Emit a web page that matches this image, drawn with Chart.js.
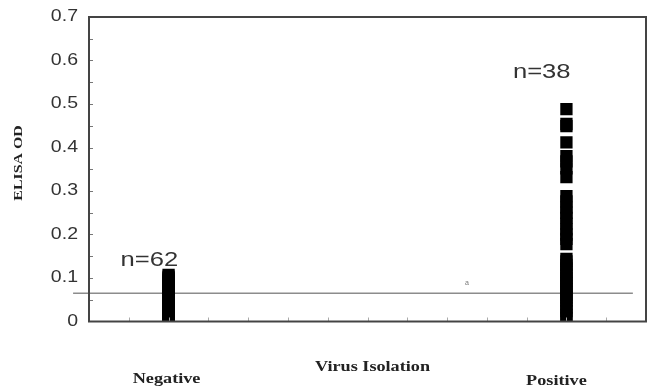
<!DOCTYPE html>
<html>
<head>
<meta charset="utf-8">
<script src="https://cdn.jsdelivr.net/npm/chart.js@4.4.1/dist/chart.umd.min.js"></script>
<style>
  html, body { margin: 0; padding: 0; background: #fff; }
  #wrap { width: 650px; height: 389px; }
</style>
</head>
<body>
<div id="wrap"><canvas id="grafico"></canvas></div>
<script>
// categorie sull'asse x e loro posizione sulla scala
var categorie = ['Negative', 'Positive'];
var posizioni = [2, 12];
var conteggi = ['n=62', 'n=38'];

// valori ELISA OD
var od_negativi = [0.005, 0.008, 0.01, 0.012, 0.015, 0.018, 0.02, 0.022, 0.024, 0.026,
  0.028, 0.03, 0.031, 0.033, 0.035, 0.036, 0.038, 0.04, 0.041, 0.043,
  0.044, 0.045, 0.047, 0.048, 0.05, 0.051, 0.052, 0.054, 0.055, 0.056,
  0.058, 0.059, 0.06, 0.061, 0.062, 0.063, 0.064, 0.065, 0.066, 0.068,
  0.069, 0.07, 0.071, 0.072, 0.074, 0.075, 0.076, 0.078, 0.079, 0.08,
  0.082, 0.083, 0.085, 0.086, 0.088, 0.09, 0.092, 0.094, 0.097, 0.1,
  0.103, 0.107];
var od_positivi = [0.488, 0.454, 0.449, 0.412, 0.380, 0.368, 0.352, 0.332,
  0.288, 0.276, 0.262, 0.250, 0.238, 0.225, 0.212, 0.200, 0.190, 0.178,
  0.144, 0.138, 0.130, 0.122, 0.115, 0.108, 0.100, 0.094, 0.088, 0.081,
  0.075, 0.068, 0.061, 0.055, 0.048, 0.040, 0.032, 0.024, 0.015, 0.008];
var cutoff = 0.065;
var y_ticks = [0, 0.1, 0.2, 0.3, 0.4, 0.5, 0.6, 0.7];

function punti(x, valori) {
  var out = [];
  for (var i = 0; i < valori.length; i++) {
    out.push({x: x, y: valori[i]});
  }
  return out;
}

// testo allargato in orizzontale come nella scansione
function testo(ctx, t, x, y, sx, align) {
  ctx.save();
  ctx.translate(x, y);
  ctx.scale(sx, 1);
  ctx.textAlign = align || 'center';
  ctx.fillText(t, 0, 0);
  ctx.restore();
}

var serif = '"Liberation Serif", "DejaVu Serif", serif';
var sans = '"Liberation Sans", Arial, sans-serif';

// bordo, tacche interne e testi aggiuntivi
var decorazioni = {
  id: 'decorazioni',
  afterDatasetsDraw: function(chart) {
    var ctx = chart.ctx;
    var a = chart.chartArea;
    var sx = chart.scales.x;
    var sy = chart.scales.y;
    ctx.save();
    // tacche asse y ogni 0.05
    ctx.strokeStyle = '#777';
    ctx.lineWidth = 1;
    for (var v = 0.05; v < 0.7; v += 0.05) {
      var py = Math.round(sy.getPixelForValue(v)) + 0.5;
      ctx.beginPath();
      ctx.moveTo(a.left, py);
      ctx.lineTo(a.left + 4, py);
      ctx.stroke();
    }
    // tacche asse x
    ctx.strokeStyle = '#aaa';
    for (var k = 1; k < 14; k++) {
      var px = Math.round(sx.getPixelForValue(k)) + 0.5;
      ctx.beginPath();
      ctx.moveTo(px, a.bottom);
      ctx.lineTo(px, a.bottom - 4);
      ctx.stroke();
    }
    // cornice
    ctx.strokeStyle = '#444';
    ctx.lineWidth = 2;
    ctx.strokeRect(a.left, a.top, a.right - a.left, a.bottom - a.top);

    ctx.textBaseline = 'middle';

    // etichette asse y
    ctx.fillStyle = '#333';
    ctx.font = '16px ' + sans;
    for (var i = 0; i < y_ticks.length; i++) {
      var t = y_ticks[i] === 0 ? '0' : y_ticks[i].toFixed(1);
      testo(ctx, t, a.left - 11, sy.getPixelForValue(y_ticks[i]), 1.22, 'right');
    }

    // titolo asse y
    ctx.fillStyle = '#222';
    ctx.font = 'bold 13px ' + serif;
    ctx.save();
    ctx.translate(19, 163);
    ctx.rotate(-Math.PI / 2);
    ctx.scale(1.22, 1);
    ctx.textAlign = 'center';
    ctx.fillText('ELISA OD', 0, 0);
    ctx.restore();

    // n=
    ctx.fillStyle = '#333';
    ctx.font = '21px ' + sans;
    testo(ctx, conteggi[0], sx.getPixelForValue(posizioni[0] - 0.48), sy.getPixelForValue(0.141), 1.22);
    testo(ctx, conteggi[1], sx.getPixelForValue(posizioni[1] - 0.62), sy.getPixelForValue(0.572), 1.22);

    // piccola "a"
    ctx.fillStyle = '#777';
    ctx.font = '7px ' + sans;
    testo(ctx, 'a', sx.getPixelForValue(9.5), sy.getPixelForValue(0.088), 1);

    // etichette in basso
    ctx.fillStyle = '#222';
    ctx.font = 'bold 14px ' + serif;
    testo(ctx, categorie[0], sx.getPixelForValue(posizioni[0]) - 2, 379, 1.3);
    testo(ctx, categorie[1], sx.getPixelForValue(posizioni[1]) - 10, 381, 1.3);
    testo(ctx, 'Virus Isolation', (a.left + a.right) / 2 + 5, 367, 1.3);
    ctx.restore();
  }
};

var grafico = new Chart(document.getElementById('grafico'), {
  type: 'scatter',
  data: {
    datasets: [{
      label: 'Negative',
      data: punti(posizioni[0], od_negativi),
      backgroundColor: '#000',
      borderWidth: 0,
      pointStyle: 'rect',
      pointRadius: 8.7,
      clip: 0
    }, {
      label: 'Positive',
      data: punti(posizioni[1], od_positivi),
      backgroundColor: '#000',
      borderWidth: 0,
      pointStyle: 'rect',
      pointRadius: 8.7,
      clip: 0
    }, {
      label: 'cutoff',
      type: 'line',
      data: [{x: -0.4, y: cutoff}, {x: 13.67, y: cutoff}],
      borderColor: '#8c8c8c',
      borderWidth: 1.5,
      pointRadius: 0,
      clip: {left: 20, right: 0, top: 0, bottom: 0}
    }]
  },
  options: {
    responsive: true,
    maintainAspectRatio: false,
    animation: false,
    layout: { autoPadding: false, padding: { left: 9, top: 17, right: 4, bottom: 0 } },
    plugins: {
      legend: { display: false },
      tooltip: { enabled: false }
    },
    scales: {
      x: {
        type: 'linear',
        min: 0,
        max: 14,
        grid: { display: false },
        border: { display: false },
        ticks: { display: false },
        afterFit: function(scale) { scale.height = 67.5; }
      },
      y: {
        min: 0,
        max: 0.7,
        grid: { display: false, drawTicks: false },
        border: { display: false },
        ticks: { display: false },
        afterFit: function(scale) { scale.width = 80; }
      }
    }
  },
  plugins: [decorazioni]
});
</script>
</body>
</html>
